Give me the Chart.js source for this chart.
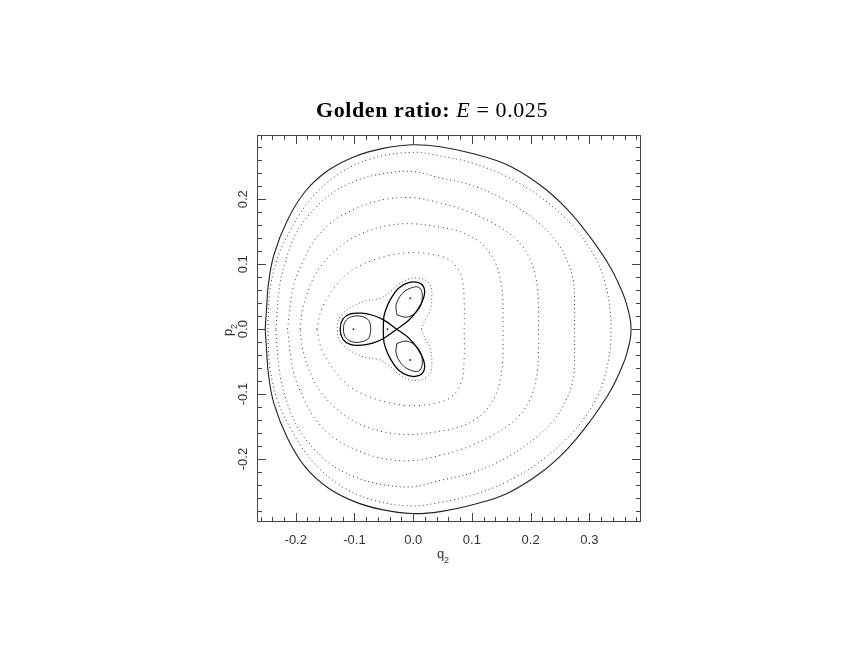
<!DOCTYPE html>
<html>
<head>
<meta charset="utf-8">
<script src="https://cdn.jsdelivr.net/npm/chart.js@4.4.0/dist/chart.umd.min.js"></script>
<style>
  html, body { margin: 0; padding: 0; background: #fff; }
  canvas { display: block; }
</style>
</head>
<body>
<canvas id="chartSection" width="864" height="648"></canvas>
<script>
// tick labels
var xTicks = [-0.2, -0.1, 0.0, 0.1, 0.2, 0.3];
var yTicks = [-0.2, -0.1, 0.0, 0.1, 0.2];

// energy boundary (solid curve), [q2, p2]
var boundary = [
  [-0.252, 0.0], [-0.2495, 0.035], [-0.2465, 0.070], [-0.237, 0.115], [-0.214, 0.168],
  [-0.184, 0.212], [-0.144, 0.245], [-0.099, 0.266], [-0.053, 0.278], [-0.002, 0.284],
  [0.046, 0.281], [0.103, 0.270], [0.160, 0.253], [0.216, 0.222], [0.262, 0.185],
  [0.302, 0.141], [0.336, 0.095], [0.358, 0.053], [0.366, 0.030], [0.3705, 0.010],
  [0.3705, -0.010], [0.366, -0.030], [0.358, -0.053], [0.336, -0.095], [0.302, -0.141],
  [0.262, -0.185], [0.216, -0.222], [0.160, -0.253], [0.103, -0.270], [0.046, -0.281],
  [-0.002, -0.284], [-0.053, -0.278], [-0.099, -0.266], [-0.144, -0.245], [-0.184, -0.212],
  [-0.214, -0.168], [-0.237, -0.115], [-0.2465, -0.070], [-0.2495, -0.035], [-0.252, 0.0]
];

// dotted invariant curves, outermost first
var ring1 = [
  [-0.2475, 0.0], [-0.2440, 0.060], [-0.2310, 0.110], [-0.2070, 0.156], [-0.1740, 0.201],
  [-0.1270, 0.239], [-0.0700, 0.263], [-0.0022, 0.2723], [0.0460, 0.2668], [0.1027, 0.2552],
  [0.1596, 0.2347], [0.2164, 0.2039], [0.2731, 0.1577], [0.3107, 0.1092], [0.3277, 0.0682],
  [0.3358, 0.0271], [0.3368, 0.0], [0.3358, -0.0271], [0.3277, -0.0682], [0.3107, -0.1092],
  [0.2731, -0.1577], [0.2164, -0.2039], [0.1596, -0.2347], [0.1027, -0.2552], [0.0460, -0.2668],
  [-0.0022, -0.2723], [-0.0700, -0.263], [-0.1270, -0.239], [-0.1740, -0.201], [-0.2070, -0.156],
  [-0.2310, -0.110], [-0.2440, -0.060], [-0.2475, 0.0]
];
var ring2 = [
  [-0.2339, 0.0], [-0.2272, 0.0682], [-0.2123, 0.1194], [-0.1907, 0.1605], [-0.1443, 0.2055],
  [-0.0988, 0.2279], [-0.0533, 0.2392], [-0.0022, 0.2428], [0.0460, 0.2330], [0.1027, 0.2205],
  [0.1596, 0.1975], [0.2049, 0.1700], [0.2390, 0.1408], [0.2618, 0.1065], [0.2731, 0.0732],
  [0.2748, 0.0323], [0.2748, 0.0], [0.2748, -0.0323], [0.2731, -0.0732], [0.2618, -0.1065],
  [0.2390, -0.1408], [0.2049, -0.1700], [0.1596, -0.1975], [0.1027, -0.2205], [0.0460, -0.2330],
  [-0.0022, -0.2428], [-0.0533, -0.2392], [-0.0988, -0.2279], [-0.1443, -0.2055], [-0.1907, -0.1605],
  [-0.2123, -0.1194], [-0.2272, -0.0682], [-0.2339, 0.0]
];
var ring3 = [
  [-0.2141, 0.0], [-0.2033, 0.0682], [-0.1824, 0.1143], [-0.1670, 0.1380], [-0.1385, 0.1650],
  [-0.0988, 0.1853], [-0.0533, 0.1990], [-0.0022, 0.2025], [0.0460, 0.1943], [0.0915, 0.1820],
  [0.1368, 0.1627], [0.1767, 0.1372], [0.1993, 0.1070], [0.2107, 0.0700], [0.2135, 0.0323],
  [0.2135, 0.0], [0.2135, -0.0323], [0.2107, -0.0700], [0.1993, -0.1070], [0.1767, -0.1372],
  [0.1368, -0.1627], [0.0915, -0.1820], [0.0460, -0.1943], [-0.0022, -0.2025], [-0.0533, -0.1990],
  [-0.0988, -0.1853], [-0.1385, -0.1650], [-0.1670, -0.1380], [-0.1824, -0.1143], [-0.2033, -0.0682],
  [-0.2141, 0.0]
];
var ring4 = [
  [-0.1925, 0.0], [-0.1880, 0.0323], [-0.1726, 0.0732], [-0.1555, 0.0990], [-0.1273, 0.1254],
  [-0.0874, 0.1476], [-0.0421, 0.1597], [-0.0022, 0.1623], [0.0460, 0.1572], [0.0801, 0.1501],
  [0.1141, 0.1335], [0.1368, 0.1080], [0.1482, 0.0785], [0.1528, 0.0425], [0.1528, 0.0],
  [0.1528, -0.0425], [0.1482, -0.0785], [0.1368, -0.1080], [0.1141, -0.1335], [0.0801, -0.1501],
  [0.0460, -0.1572], [-0.0022, -0.1623], [-0.0421, -0.1597], [-0.0874, -0.1476], [-0.1273, -0.1254],
  [-0.1555, -0.0990], [-0.1726, -0.0732], [-0.1880, -0.0323], [-0.1925, 0.0]
];
var ring5 = [
  [-0.1641, 0.0], [-0.1555, 0.0320], [-0.1329, 0.0654], [-0.1102, 0.0868], [-0.0818, 0.1016],
  [-0.0421, 0.1130], [-0.0022, 0.1180], [0.0460, 0.1123], [0.0687, 0.1015], [0.0830, 0.0785],
  [0.0869, 0.0425], [0.0869, 0.0], [0.0869, -0.0425], [0.0830, -0.0785], [0.0687, -0.1015],
  [0.0460, -0.1123], [-0.0022, -0.1180], [-0.0421, -0.1130], [-0.0818, -0.1016], [-0.1102, -0.0868],
  [-0.1329, -0.0654], [-0.1555, -0.0320], [-0.1641, 0.0]
];
// three-lobed curve around the islands
var ring6 = [
  [0.0140, 0.0], [0.0204, 0.0143], [0.0290, 0.0297], [0.0319, 0.0502], [0.0290, 0.0682],
  [0.0175, 0.0769], [-0.0022, 0.0785], [-0.0221, 0.0708], [-0.0392, 0.0578], [-0.0562, 0.0477],
  [-0.0847, 0.0425], [-0.1129, 0.0297], [-0.1273, 0.0143], [-0.1290, 0.0], [-0.1273, -0.0143],
  [-0.1129, -0.0297], [-0.0847, -0.0425], [-0.0562, -0.0477], [-0.0392, -0.0578], [-0.0221, -0.0708],
  [-0.0022, -0.0785], [0.0175, -0.0769], [0.0290, -0.0682], [0.0319, -0.0502], [0.0290, -0.0297],
  [0.0204, -0.0143], [0.0140, 0.0]
];

// separatrix (black trefoil through the central triangle)
var separatrix = [
  [-0.0278, 0.0], [-0.0505, 0.0143], [-0.0676, 0.0210], [-0.0874, 0.0246], [-0.1073, 0.0235],
  [-0.1198, 0.0153], [-0.1244, 0.0], [-0.1198, -0.0153], [-0.1073, -0.0235], [-0.0874, -0.0246],
  [-0.0676, -0.0210], [-0.0505, -0.0143], [-0.0278, 0.0], [-0.0080, 0.0133], [0.0074, 0.0297],
  [0.0176, 0.0476], [0.0187, 0.0630], [0.0091, 0.0717], [-0.0080, 0.0717], [-0.0250, 0.0630],
  [-0.0392, 0.0451], [-0.0477, 0.0271], [-0.0505, 0.0143], [-0.0505, -0.0143], [-0.0477, -0.0271],
  [-0.0392, -0.0451], [-0.0250, -0.0630], [-0.0080, -0.0717], [0.0091, -0.0717], [0.0187, -0.0630],
  [0.0176, -0.0476], [0.0074, -0.0297], [-0.0080, -0.0133], [-0.0278, 0.0]
];

// islands: inner orbits and their centres
var islandLeft = [
  [-0.0721, 0.0], [-0.0755, 0.0133], [-0.0874, 0.0194], [-0.1045, 0.0194], [-0.1158, 0.0117],
  [-0.1187, 0.0], [-0.1158, -0.0117], [-0.1045, -0.0194], [-0.0874, -0.0194], [-0.0755, -0.0133],
  [-0.0721, 0.0]
];
var islandUp = [
  [-0.0278, 0.0220], [-0.0290, 0.0374], [-0.0193, 0.0543], [-0.0051, 0.0630], [0.0091, 0.0646],
  [0.0153, 0.0553], [0.0131, 0.0374], [0.0034, 0.0246], [-0.0119, 0.0184], [-0.0278, 0.0220]
];
var islandDown = [
  [-0.0278, -0.0220], [-0.0290, -0.0374], [-0.0193, -0.0543], [-0.0051, -0.0630], [0.0091, -0.0646],
  [0.0153, -0.0553], [0.0131, -0.0374], [0.0034, -0.0246], [-0.0119, -0.0184], [-0.0278, -0.0220]
];
var centres = [[-0.1017, 0.0], [-0.0051, 0.0476], [-0.0051, -0.0476], [-0.0437, 0.0]];

function pts(a) {
  return a.map(function (p) { return { x: p[0], y: p[1] }; });
}

function curve(arr, color, width, dash, tension) {
  return {
    data: pts(arr),
    showLine: true,
    borderColor: color,
    borderWidth: width,
    borderDash: dash || [],
    pointRadius: 0,
    tension: tension || 0.35,
    fill: false
  };
}

function fmt(v) {
  return Math.abs(v) < 1e-9 ? '0.0' : v.toFixed(1);
}

var framePlugin = {
  id: 'frame',
  afterDraw: function (chart) {
    var ctx = chart.ctx, a = chart.chartArea;
    var sx = chart.scales.x, sy = chart.scales.y;
    ctx.save();
    ctx.strokeStyle = '#444';
    ctx.lineWidth = 1;
    ctx.strokeRect(a.left + 0.5, a.top + 0.5, a.right - a.left - 1, a.bottom - a.top - 1);
    ctx.beginPath();
    for (var i = -13; i <= 19; i++) {
      var len = (i % 5 === 0) ? 9 : 5;
      var px = Math.round(sx.getPixelForValue(i * 0.02)) + 0.5;
      ctx.moveTo(px, a.bottom); ctx.lineTo(px, a.bottom - len);
      ctx.moveTo(px, a.top); ctx.lineTo(px, a.top + len);
    }
    for (var j = -14; j <= 14; j++) {
      var l2 = (j % 5 === 0) ? 9 : 5;
      var py = Math.round(sy.getPixelForValue(j * 0.02)) + 0.5;
      ctx.moveTo(a.left, py); ctx.lineTo(a.left + l2, py);
      ctx.moveTo(a.right, py); ctx.lineTo(a.right - l2, py);
    }
    ctx.stroke();

    // axis titles with subscripts
    ctx.fillStyle = '#333';
    ctx.textBaseline = 'alphabetic';
    ctx.textAlign = 'left';
    ctx.font = '13px "Liberation Sans", sans-serif';
    ctx.fillText('q', 437, 558);
    ctx.font = '9px "Liberation Sans", sans-serif';
    ctx.fillText('2', 444, 563);

    ctx.save();
    ctx.translate(232, 336);
    ctx.rotate(-Math.PI / 2);
    ctx.font = '13px "Liberation Sans", sans-serif';
    ctx.fillText('p', 0, 0);
    ctx.font = '9px "Liberation Sans", sans-serif';
    ctx.fillText('2', 7, 5);
    ctx.restore();

    // title with italic E
    var parts = [
      ['bold 22px "Liberation Serif", serif', 'Golden ratio: '],
      ['italic 22px "Liberation Serif", serif', 'E'],
      ['22px "Liberation Serif", serif', ' = 0.025']
    ];
    ctx.letterSpacing = '0.6px';
    var total = 0;
    parts.forEach(function (p) { ctx.font = p[0]; total += ctx.measureText(p[1]).width; });
    var x = 432 - total / 2;
    ctx.fillStyle = '#000';
    parts.forEach(function (p) {
      ctx.font = p[0];
      ctx.fillText(p[1], x, 117);
      x += ctx.measureText(p[1]).width;
    });
    ctx.restore();
  }
};

var ringColor = '#333';
var ctx = document.getElementById('chartSection').getContext('2d');
var chartSection = new Chart(ctx, {
  type: 'scatter',
  data: {
    datasets: [
      curve(boundary, '#222', 1.1, [], 0.4),
      curve(ring1, ringColor, 1, [1, 3]),
      curve(ring2, ringColor, 1, [1, 3]),
      curve(ring3, ringColor, 1, [1, 3.5]),
      curve(ring4, ringColor, 1, [1, 3.5]),
      curve(ring5, ringColor, 1, [1, 4]),
      curve(ring6, '#555', 1, [1, 2.5]),
      curve(separatrix, '#000', 1.25),
      curve(islandLeft, '#222', 1),
      curve(islandUp, '#222', 1),
      curve(islandDown, '#222', 1),
      {
        data: pts(centres),
        pointRadius: 1,
        pointBackgroundColor: '#333',
        pointBorderWidth: 0,
        showLine: false
      }
    ]
  },
  options: {
    responsive: false,
    animation: false,
    devicePixelRatio: 1,
    layout: { padding: { left: 197, right: 223, top: 135, bottom: 66 } },
    plugins: {
      legend: { display: false },
      tooltip: { enabled: false }
    },
    scales: {
      x: {
        type: 'linear',
        min: -0.266,
        max: 0.388,
        afterBuildTicks: function (s) { s.ticks = xTicks.map(function (v) { return { value: v }; }); },
        afterFit: function (s) { s.height = 60; },
        grid: { display: false, drawTicks: false },
        border: { display: false },
        ticks: {
          padding: 11,
          color: '#333',
          font: { family: '"Liberation Sans", sans-serif', size: 13 },
          callback: function (v) { return fmt(v); }
        },
        title: { display: false }
      },
      y: {
        type: 'linear',
        min: -0.297,
        max: 0.299,
        afterBuildTicks: function (s) { s.ticks = yTicks.map(function (v) { return { value: v }; }); },
        afterFit: function (s) { s.width = 60; },
        grid: { display: false, drawTicks: false },
        border: { display: false },
        ticks: {
          padding: 2,
          minRotation: 90,
          maxRotation: 90,
          crossAlign: 'center',
          color: '#333',
          font: { family: '"Liberation Sans", sans-serif', size: 13 },
          callback: function (v) { return fmt(v); }
        },
        title: { display: false }
      }
    }
  },
  plugins: [framePlugin]
});
</script>
</body>
</html>
